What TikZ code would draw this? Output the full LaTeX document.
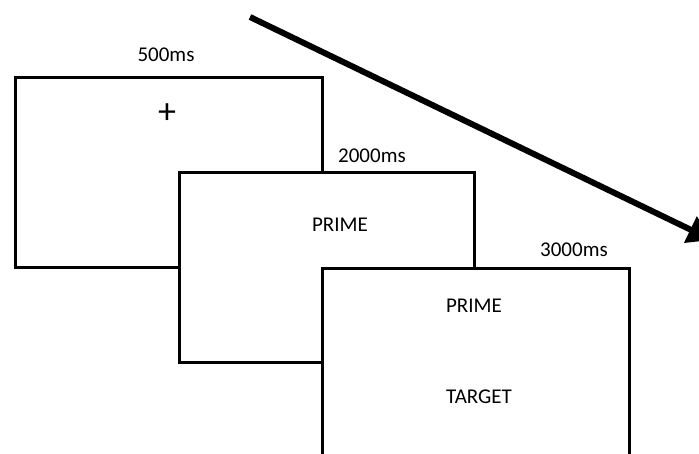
\documentclass[tikz,border=0pt]{standalone}
\usepackage{fontspec}
\setmainfont{Carlito}
\usepackage{tikz}
\usetikzlibrary{positioning, arrows.meta}

\begin{document}
\begin{tikzpicture}[
    x=1pt, y=-1pt,
    screen/.style={
        rectangle,
        draw=black,
        fill=white,
        line width=2.8pt,
        minimum width=307pt,
        anchor=north west
    },
    stimulus/.style={
        inner sep=0pt,
        font=\fontsize{21}{24}\selectfont
    },
    duration/.style={
        inner sep=0pt,
        font=\fontsize{21}{24}\selectfont
    },
    timeline/.style={
        line width=6pt,
        -{Triangle[length=24pt, width=28pt]},
        black
    }
]

\useasboundingbox (0,0) rectangle (699,453);
\clip (0,0) rectangle (699,453);

% Screen 1: Fixation
\node[screen, minimum height=190pt] (fixation) at (14,76) {};
\node[stimulus, font=\fontsize{36}{36}\selectfont] (cross) at (167,114) {+};
\node[duration] (t1) at (166,55) {500ms};

% Screen 2: Prime
\node[screen, minimum width=295pt, minimum height=190pt] (prime) at (178,171) {};
\node[stimulus] (primeword) at (340,225) {PRIME};
\node[duration, anchor=west] (t2) at (338,156) {2000ms};

% Screen 3: Prime + Target
\node[screen, minimum height=210pt] (target) at (321,267) {};
\node[stimulus] (primeagain) at (474,306) {PRIME};
\node[stimulus] (targetword) at (479,397) {TARGET};
\node[duration, anchor=west] (t3) at (540,250) {3000ms};

% Time arrow
\coordinate (tstart) at (250,17);
\coordinate (tend) at (712,240);
\draw[timeline] (tstart) -- (tend);

\end{tikzpicture}
\end{document}
